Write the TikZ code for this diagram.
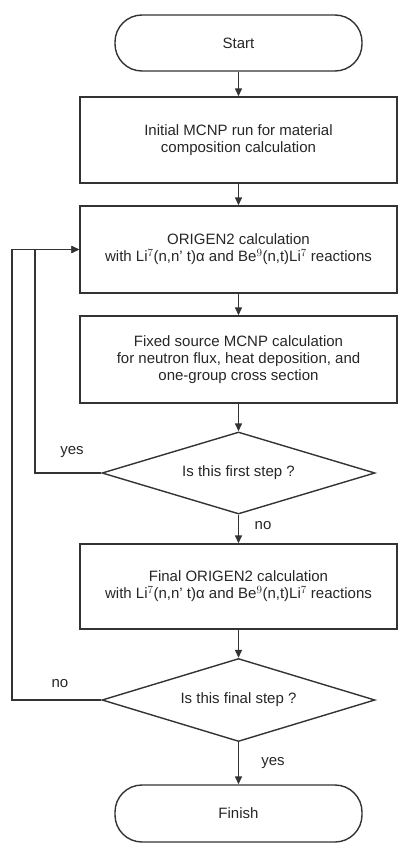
\documentclass[tikz,border=0pt]{standalone}
\usepackage{fontspec}
\setmainfont{Liberation Sans}
\usetikzlibrary{shapes.geometric,arrows.meta}
\begin{document}
\begin{tikzpicture}[x=1pt,y=-1pt,
  line/.style={draw=black!80,line width=1.4pt},
  arr/.style={line,-{Triangle[length=8pt,width=7pt]}},
  term/.style={line,rectangle,rounded corners=27pt,minimum width=247pt,minimum height=56pt,inner sep=0pt,font=\fontsize{15}{17}\selectfont},
  procbox/.style={line,rectangle,minimum width=317pt,minimum height=86pt,inner sep=0pt,align=center,font=\fontsize{15}{17}\selectfont,text=black!85},
  decision/.style={line,diamond,shape aspect=3.33,minimum width=273pt,minimum height=82pt,inner sep=0pt,font=\fontsize{15}{17}\selectfont,text=black!85},
  lbl/.style={font=\fontsize{15}{17}\selectfont,text=black!85,inner sep=0pt}]
\useasboundingbox (0,0) rectangle (404,851);
\node[term,text=black!85] (start) at (238.5,43) {Start};
\node[procbox] (b1) at (238.5,140) {Initial MCNP run for material\\composition calculation};
\node[procbox,minimum height=87pt] (b2) at (238.5,249.5) {ORIGEN2 calculation\\with Li$^7$(n,n' t)α and Be$^9$(n,t)Li$^7$ reactions};
\node[procbox,minimum height=87pt] (b3) at (238.5,359.5) {Fixed source MCNP calculation\\for neutron flux, heat deposition, and\\one-group cross section};
\node[decision] (d1) at (238.5,473) {Is this first step ?};
\node[procbox,minimum height=85pt] (b4) at (238.5,586.5) {Final ORIGEN2 calculation\\with Li$^7$(n,n' t)α and Be$^9$(n,t)Li$^7$ reactions};
\node[decision,minimum height=83pt] (d2) at (238.5,700) {Is this final step ?};
\node[term,minimum height=57pt,text=black!85] (finish) at (238.5,813.5) {Finish};
\draw[arr] (start) -- (b1);
\draw[arr] (b1) -- (b2);
\draw[arr] (b2) -- (b3);
\draw[arr] (b3) -- (d1);
\draw[arr] (d1) -- (b4);
\draw[arr] (b4) -- (d2);
\draw[arr] (d2) -- (finish);
\coordinate (cy) at (35,249.5);
\coordinate (cn) at (12,249.5);
\draw[arr] (d1.west) -| (cy) -- (b2.west);
\draw[arr] (d2.west) -| (cn) -- (b2.west);
\node[lbl] (lyes1) at (72,452) {yes};
\node[lbl] (lno1) at (263,526) {no};
\node[lbl] (lno2) at (60,684) {no};
\node[lbl] (lyes2) at (273,763) {yes};
\end{tikzpicture}
\end{document}
